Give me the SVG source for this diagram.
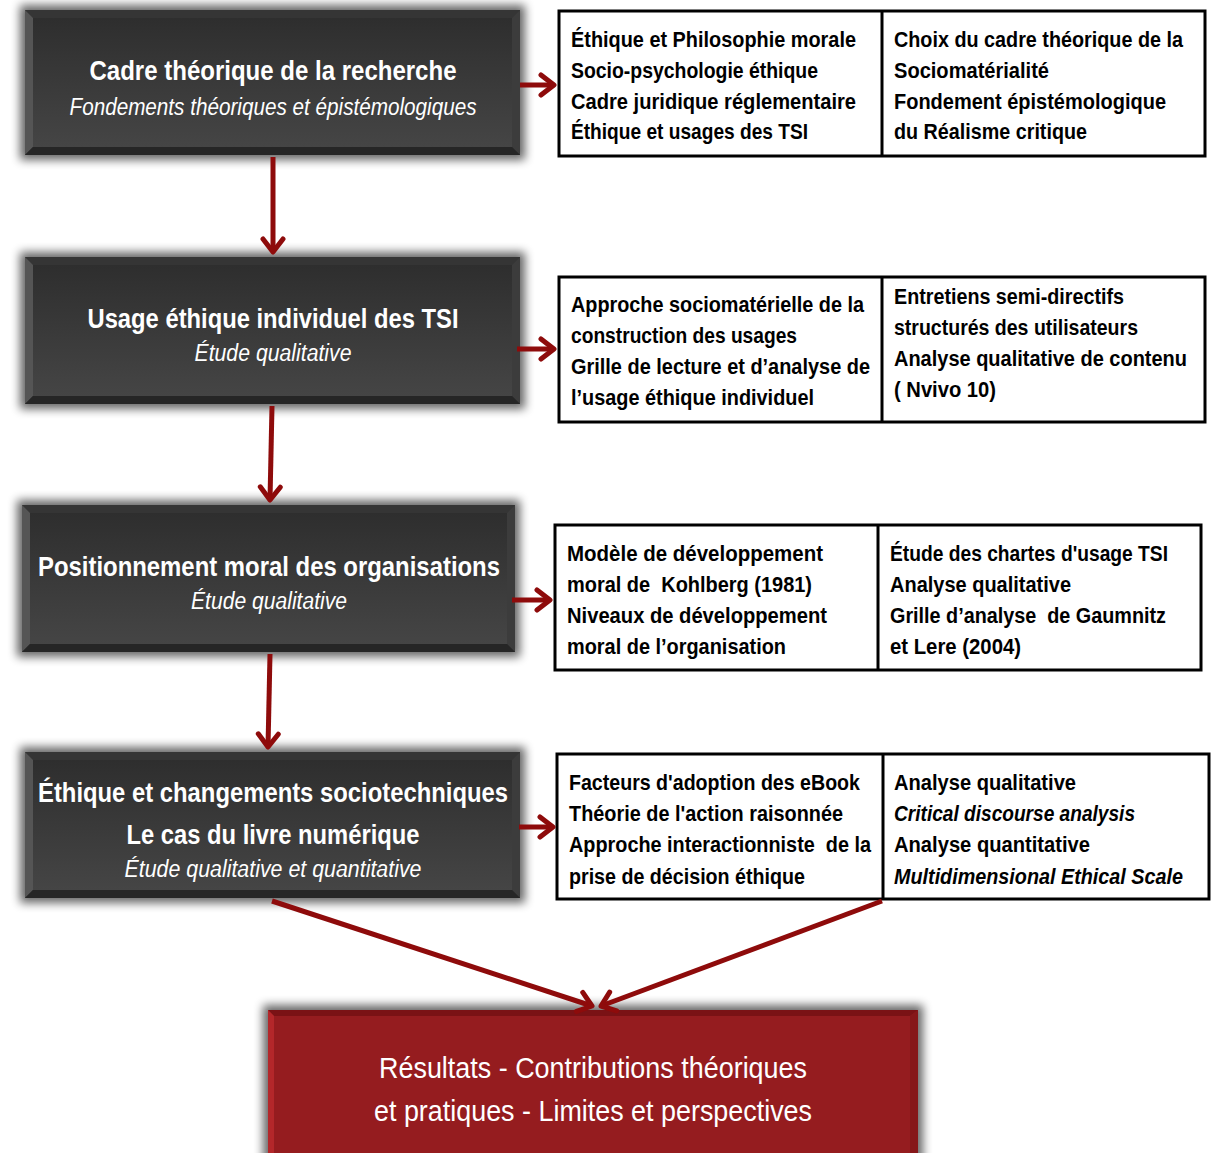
<svg xmlns="http://www.w3.org/2000/svg" width="1211" height="1153" viewBox="0 0 1211 1153">
<defs>
  <linearGradient id="dark" x1="0" y1="0" x2="0" y2="1">
    <stop offset="0" stop-color="#2e2e2e"/>
    <stop offset="1" stop-color="#454545"/>
  </linearGradient>
  <filter id="sh" x="-10%" y="-25%" width="120%" height="150%">
    <feMorphology in="SourceAlpha" operator="dilate" radius="5" result="d"/>
    <feGaussianBlur in="d" stdDeviation="5"/>
    <feComponentTransfer><feFuncA type="linear" slope="0.6"/></feComponentTransfer>
    <feMerge><feMergeNode/><feMergeNode in="SourceGraphic"/></feMerge>
  </filter>
  <marker id="ah" markerUnits="userSpaceOnUse" markerWidth="32" markerHeight="32" refX="16" refY="11" orient="auto" viewBox="0 0 32 22">
    <path d="M3,1 L16,11 L3,21" fill="none" stroke="#8e0b0b" stroke-width="5" stroke-linecap="round" stroke-linejoin="round"/>
  </marker>
  <style>
    .title{font-family:"Liberation Sans Narrow","Liberation Sans",Arial,sans-serif;font-weight:bold;font-size:28px;fill:#ffffff;text-anchor:middle}
    .sub{font-family:"Liberation Sans Narrow","Liberation Sans",Arial,sans-serif;font-style:italic;font-size:23px;fill:#ffffff;text-anchor:middle}
    .res{font-family:"Liberation Sans Narrow","Liberation Sans",Arial,sans-serif;font-size:30px;fill:#ffffff;text-anchor:middle}
    .t{font-family:"Liberation Sans Narrow","Liberation Sans",Arial,sans-serif;font-weight:bold;font-size:22px;fill:#000000}
    .ti{font-style:italic}
    .cell{fill:#ffffff;stroke:#000000;stroke-width:3}
    .div{stroke:#000000;stroke-width:3}
    .conn{stroke:#8e0b0b;stroke-width:5;fill:none;marker-end:url(#ah)}
    .face{fill:url(#dark)}
  </style>
</defs>

<!-- Node 1 -->
<g id="node-cadre">
  <g filter="url(#sh)">
    <rect x="25" y="10" width="495" height="145" fill="#333333"/>
  </g>
  <polygon points="25,10 520,10 512,18 33,18" fill="#353535"/>
  <polygon points="25,10 33,18 33,147 25,155" fill="#555555"/>
  <polygon points="520,10 512,18 512,147 520,155" fill="#3c3c3c"/>
  <polygon points="25,155 33,147 512,147 520,155" fill="#262626"/>
  <rect x="33" y="18" width="479" height="129" class="face"/>
  <text class="title" x="273" y="80" textLength="367" lengthAdjust="spacingAndGlyphs">Cadre théorique de la recherche</text>
  <text class="sub" x="273" y="115" textLength="407" lengthAdjust="spacingAndGlyphs">Fondements théoriques et épistémologiques</text>
</g>

<!-- Node 2 -->
<g id="node-usage">
  <g filter="url(#sh)">
    <rect x="25" y="257" width="495" height="147" fill="#333333"/>
  </g>
  <polygon points="25,257 520,257 512,265 33,265" fill="#353535"/>
  <polygon points="25,257 33,265 33,396 25,404" fill="#555555"/>
  <polygon points="520,257 512,265 512,396 520,404" fill="#3c3c3c"/>
  <polygon points="25,404 33,396 512,396 520,404" fill="#262626"/>
  <rect x="33" y="265" width="479" height="131" class="face"/>
  <text class="title" x="273" y="328" textLength="371" lengthAdjust="spacingAndGlyphs">Usage éthique individuel des TSI</text>
  <text class="sub" x="273" y="361" textLength="157" lengthAdjust="spacingAndGlyphs">Étude qualitative</text>
</g>

<!-- Node 3 -->
<g id="node-positionnement">
  <g filter="url(#sh)">
    <rect x="22" y="505" width="493" height="147" fill="#333333"/>
  </g>
  <polygon points="22,505 515,505 507,513 30,513" fill="#353535"/>
  <polygon points="22,505 30,513 30,644 22,652" fill="#555555"/>
  <polygon points="515,505 507,513 507,644 515,652" fill="#3c3c3c"/>
  <polygon points="22,652 30,644 507,644 515,652" fill="#262626"/>
  <rect x="30" y="513" width="477" height="131" class="face"/>
  <text class="title" x="269" y="576" textLength="462" lengthAdjust="spacingAndGlyphs">Positionnement moral des organisations</text>
  <text class="sub" x="269" y="609" textLength="156" lengthAdjust="spacingAndGlyphs">Étude qualitative</text>
</g>

<!-- Node 4 -->
<g id="node-ethique">
  <g filter="url(#sh)">
    <rect x="25" y="752" width="495" height="146" fill="#333333"/>
  </g>
  <polygon points="25,752 520,752 512,760 33,760" fill="#353535"/>
  <polygon points="25,752 33,760 33,890 25,898" fill="#555555"/>
  <polygon points="520,752 512,760 512,890 520,898" fill="#3c3c3c"/>
  <polygon points="25,898 33,890 512,890 520,898" fill="#262626"/>
  <rect x="33" y="760" width="479" height="130" class="face"/>
  <text class="title" x="273" y="802" textLength="470" lengthAdjust="spacingAndGlyphs">Éthique et changements sociotechniques</text>
  <text class="title" x="273" y="844" textLength="293" lengthAdjust="spacingAndGlyphs">Le cas du livre numérique</text>
  <text class="sub" x="273" y="877" textLength="297" lengthAdjust="spacingAndGlyphs">Étude qualitative et quantitative</text>
</g>

<!-- Result node -->
<g id="node-resultats">
  <g filter="url(#sh)">
    <rect x="268" y="1010" width="650" height="150" fill="#951c1f"/>
  </g>
  <polygon points="268,1010 918,1010 910,1016 274,1016" fill="#7a1215"/>
  <polygon points="268,1010 274,1016 274,1160 268,1160" fill="#b3272a"/>
  <polygon points="918,1010 910,1016 910,1160 918,1160" fill="#861719"/>
  <rect x="274" y="1016" width="636" height="144" fill="#951c1f"/>
  <text class="res" x="593" y="1078" textLength="428" lengthAdjust="spacingAndGlyphs">Résultats - Contributions théoriques</text>
  <text class="res" x="593" y="1121" textLength="438" lengthAdjust="spacingAndGlyphs">et pratiques - Limites et perspectives</text>
</g>

<!-- Table 1 -->
<g id="table-cadre">
  <rect class="cell" x="559" y="11" width="646" height="145"/>
  <line class="div" x1="882" y1="11" x2="882" y2="156"/>
  <text class="t" x="571" y="47" textLength="285" lengthAdjust="spacingAndGlyphs">Éthique et Philosophie morale</text>
  <text class="t" x="571" y="78" textLength="247" lengthAdjust="spacingAndGlyphs">Socio-psychologie éthique</text>
  <text class="t" x="571" y="109" textLength="285" lengthAdjust="spacingAndGlyphs">Cadre juridique réglementaire</text>
  <text class="t" x="571" y="139" textLength="237" lengthAdjust="spacingAndGlyphs">Éthique et usages des TSI</text>
  <text class="t" x="894" y="47" textLength="289" lengthAdjust="spacingAndGlyphs">Choix du cadre théorique de la</text>
  <text class="t" x="894" y="78" textLength="155" lengthAdjust="spacingAndGlyphs">Sociomatérialité</text>
  <text class="t" x="894" y="109" textLength="272" lengthAdjust="spacingAndGlyphs">Fondement épistémologique</text>
  <text class="t" x="894" y="139" textLength="193" lengthAdjust="spacingAndGlyphs">du Réalisme critique</text>
</g>

<!-- Table 2 -->
<g id="table-usage">
  <rect class="cell" x="559" y="277" width="646" height="145"/>
  <line class="div" x1="882" y1="277" x2="882" y2="422"/>
  <text class="t" x="571" y="312" textLength="293" lengthAdjust="spacingAndGlyphs">Approche sociomatérielle de la</text>
  <text class="t" x="571" y="343" textLength="226" lengthAdjust="spacingAndGlyphs">construction des usages</text>
  <text class="t" x="571" y="374" textLength="299" lengthAdjust="spacingAndGlyphs">Grille de lecture et d’analyse de</text>
  <text class="t" x="571" y="405" textLength="243" lengthAdjust="spacingAndGlyphs">l’usage éthique individuel</text>
  <text class="t" x="894" y="304" textLength="230" lengthAdjust="spacingAndGlyphs">Entretiens semi-directifs</text>
  <text class="t" x="894" y="335" textLength="244" lengthAdjust="spacingAndGlyphs">structurés des utilisateurs</text>
  <text class="t" x="894" y="366" textLength="293" lengthAdjust="spacingAndGlyphs">Analyse qualitative de contenu</text>
  <text class="t" x="894" y="397" textLength="102" lengthAdjust="spacingAndGlyphs">( Nvivo 10)</text>
</g>

<!-- Table 3 -->
<g id="table-positionnement">
  <rect class="cell" x="555" y="525" width="646" height="145"/>
  <line class="div" x1="878" y1="525" x2="878" y2="670"/>
  <text class="t" x="567" y="561" textLength="256" lengthAdjust="spacingAndGlyphs">Modèle de développement</text>
  <text class="t" x="567" y="592" textLength="245" lengthAdjust="spacingAndGlyphs" xml:space="preserve">moral de  Kohlberg (1981)</text>
  <text class="t" x="567" y="623" textLength="260" lengthAdjust="spacingAndGlyphs">Niveaux de développement</text>
  <text class="t" x="567" y="654" textLength="219" lengthAdjust="spacingAndGlyphs">moral de l’organisation</text>
  <text class="t" x="890" y="561" textLength="278" lengthAdjust="spacingAndGlyphs">Étude des chartes d'usage TSI</text>
  <text class="t" x="890" y="592" textLength="181" lengthAdjust="spacingAndGlyphs">Analyse qualitative</text>
  <text class="t" x="890" y="623" textLength="276" lengthAdjust="spacingAndGlyphs" xml:space="preserve">Grille d’analyse  de Gaumnitz</text>
  <text class="t" x="890" y="654" textLength="131" lengthAdjust="spacingAndGlyphs">et Lere (2004)</text>
</g>

<!-- Table 4 -->
<g id="table-ethique">
  <rect class="cell" x="557" y="754" width="652" height="145"/>
  <line class="div" x1="883" y1="754" x2="883" y2="899"/>
  <text class="t" x="569" y="790" textLength="291" lengthAdjust="spacingAndGlyphs">Facteurs d'adoption des eBook</text>
  <text class="t" x="569" y="821" textLength="274" lengthAdjust="spacingAndGlyphs">Théorie de l'action raisonnée</text>
  <text class="t" x="569" y="852" textLength="302" lengthAdjust="spacingAndGlyphs" xml:space="preserve">Approche interactionniste  de la</text>
  <text class="t" x="569" y="884" textLength="236" lengthAdjust="spacingAndGlyphs">prise de décision éthique</text>
  <text class="t" x="894" y="790" textLength="182" lengthAdjust="spacingAndGlyphs">Analyse qualitative</text>
  <text class="t ti" x="894" y="821" textLength="241" lengthAdjust="spacingAndGlyphs">Critical discourse analysis</text>
  <text class="t" x="894" y="852" textLength="196" lengthAdjust="spacingAndGlyphs">Analyse quantitative</text>
  <text class="t ti" x="894" y="884" textLength="289" lengthAdjust="spacingAndGlyphs">Multidimensional Ethical Scale</text>
</g>

<!-- Connectors -->
<g id="connectors">
  <line class="conn" x1="273" y1="157" x2="273" y2="252"/>
  <line class="conn" x1="272" y1="406" x2="270" y2="500"/>
  <line class="conn" x1="270" y1="654" x2="268" y2="747"/>
  <line class="conn" x1="520" y1="85" x2="554" y2="85"/>
  <line class="conn" x1="517" y1="349" x2="554" y2="349"/>
  <line class="conn" x1="512" y1="600" x2="550" y2="600"/>
  <line class="conn" x1="519" y1="827" x2="553" y2="827"/>
  <line class="conn" x1="272" y1="901" x2="592" y2="1006"/>
  <line class="conn" x1="882" y1="901" x2="601" y2="1006"/>
</g>
</svg>
